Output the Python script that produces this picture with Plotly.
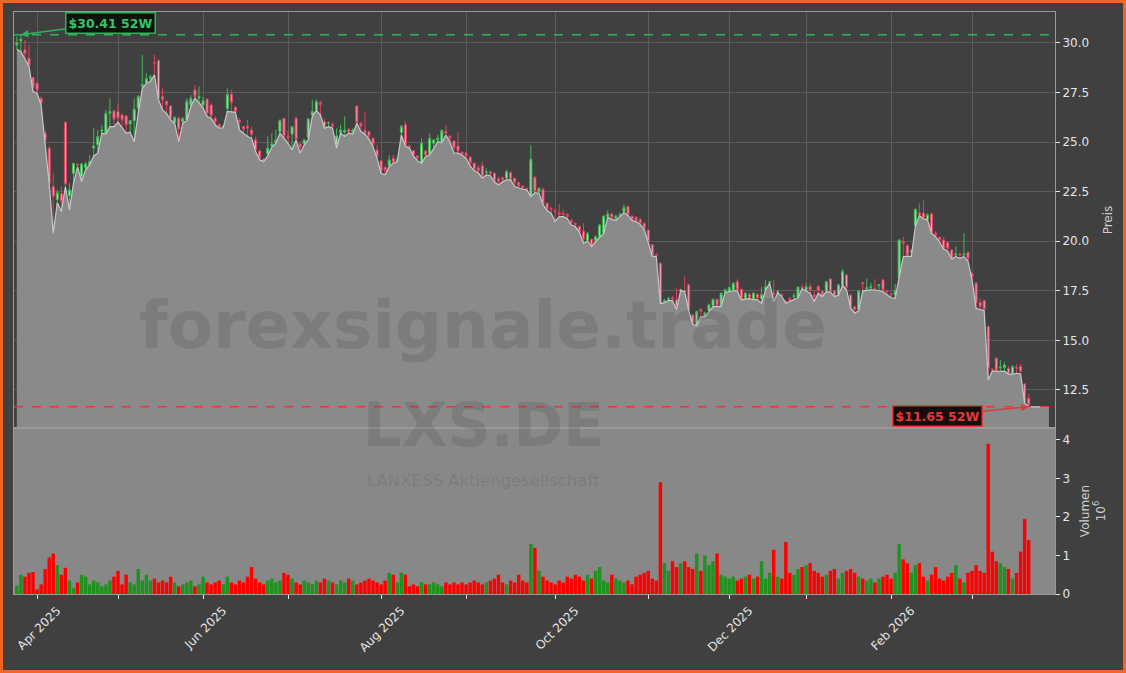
import pandas as pd
import plotly.graph_objects as go
from plotly.subplots import make_subplots

# ---------------- data ----------------
holidays = ["2025-04-18", "2025-04-21", "2025-05-01", "2025-12-24",
            "2025-12-25", "2025-12-26", "2025-12-31", "2026-01-01"]
dates = [d for d in pd.bdate_range("2025-03-25", "2026-03-20")
         if d.strftime("%Y-%m-%d") not in holidays]

open_ = [
 29.90,30.10,29.65,29.23,28.25,27.97,27.21,25.45,24.69,22.76,
 22.10,22.40,26.00,22.30,23.43,23.88,23.26,23.70,23.85,24.70,
 24.86,25.55,25.45,26.45,26.57,26.54,26.37,26.32,25.91,26.08,
 26.71,27.80,28.00,28.20,29.00,29.11,27.29,27.04,26.82,26.00,
 26.20,26.03,26.12,26.87,27.63,27.20,26.87,27.16,26.87,26.20,
 25.90,25.78,26.69,27.41,26.76,26.10,25.78,25.80,25.60,25.11,
 24.55,24.15,24.40,24.80,25.00,25.53,26.20,25.30,25.40,26.20,
 24.90,24.91,25.24,26.37,26.62,27.00,26.03,25.95,25.90,24.86,
 25.50,25.50,25.65,25.50,26.82,25.95,25.60,25.53,25.19,24.60,
 24.06,23.73,23.80,24.18,24.05,25.48,25.87,24.80,24.57,24.30,
 23.93,24.55,24.40,24.94,25.10,25.02,25.55,25.30,25.05,24.80,
 24.50,24.45,24.25,23.93,23.70,23.80,23.45,23.51,23.43,23.15,
 23.20,23.18,23.46,23.18,22.95,22.79,22.67,22.28,23.22,22.50,
 22.62,21.91,21.65,21.55,21.45,21.40,21.35,21.05,20.90,20.74,
 20.50,20.03,20.10,20.03,20.23,20.40,21.24,21.37,21.14,21.30,
 21.50,21.75,21.27,21.21,21.10,20.90,20.57,19.83,19.32,18.89,
 16.95,17.05,17.15,17.05,17.50,17.50,17.80,16.28,15.78,16.57,
 16.20,16.50,16.74,17.07,16.74,17.43,17.46,17.54,17.96,17.58,
 17.12,17.33,17.09,17.33,17.10,17.55,17.92,17.40,17.42,17.30,
 16.95,17.10,17.20,17.17,17.68,17.51,17.71,17.30,17.71,17.46,
 17.51,18.10,17.49,17.29,17.80,18.30,17.29,16.70,16.55,17.91,
 17.60,17.65,17.62,17.75,18.05,17.50,17.35,17.30,18.13,20.00,
 19.78,19.45,20.79,21.45,21.41,21.11,21.38,20.40,20.20,20.06,
 19.93,19.56,19.30,19.35,19.30,19.43,18.38,17.88,16.90,17.01,
 15.69,13.55,14.10,13.60,13.64,13.59,13.34,13.65,13.68,12.80,
 12.08]

high = [
 30.32,30.41,30.15,29.90,28.30,28.00,27.30,25.60,24.80,23.43,
 22.60,22.76,26.05,22.92,23.95,23.95,23.95,24.00,24.35,25.70,
 25.61,25.87,26.62,27.21,26.62,26.96,26.45,26.37,26.10,27.21,
 27.38,29.40,28.47,28.40,29.40,29.15,27.71,27.10,26.85,26.30,
 26.29,26.25,27.21,27.38,27.88,27.80,27.29,27.21,26.96,26.29,
 25.92,25.85,27.71,27.63,26.80,26.20,25.80,26.12,25.78,25.28,
 24.61,24.18,25.28,25.45,25.61,26.15,26.20,25.61,25.80,26.29,
 24.95,25.15,26.20,27.13,27.16,27.08,26.20,26.03,26.00,25.70,
 25.87,26.29,25.70,25.70,26.82,26.03,26.55,25.55,25.25,24.86,
 24.10,23.80,24.35,24.35,24.30,25.87,26.03,24.86,24.60,24.35,
 25.19,24.60,25.44,25.15,25.36,25.65,25.87,25.35,25.11,25.50,
 24.52,24.52,24.27,23.97,23.85,24.02,23.68,23.55,23.48,23.26,
 23.26,23.60,23.51,23.20,23.00,22.82,22.72,24.86,23.30,22.72,
 22.70,21.95,21.75,21.66,21.88,21.58,21.41,21.15,20.95,20.80,
 20.91,20.45,20.15,20.30,20.85,21.30,21.55,21.45,21.32,21.45,
 21.85,21.80,21.30,21.25,21.15,20.95,20.60,19.85,19.40,18.95,
 17.10,17.20,17.24,17.63,17.60,18.22,17.85,16.30,16.50,16.60,
 16.45,16.85,17.10,17.10,17.40,17.60,17.70,17.95,18.08,17.62,
 17.42,17.40,17.42,17.38,17.71,18.05,18.00,18.05,17.55,17.40,
 17.05,17.21,17.38,17.72,17.85,17.90,17.85,17.54,17.80,17.50,
 18.00,18.15,17.55,17.85,18.60,18.35,17.35,16.75,17.55,17.95,
 18.13,17.90,18.08,17.85,18.10,17.55,17.40,17.85,20.10,20.23,
 19.85,19.60,21.65,21.91,22.05,21.40,21.45,20.50,20.25,20.20,
 19.95,19.60,19.73,19.45,20.40,19.50,18.45,17.95,17.12,17.05,
 15.75,13.59,14.15,14.01,13.90,13.70,13.75,13.80,13.80,12.85,
 12.30]

low = [
 29.68,29.56,29.20,28.81,27.55,27.46,26.87,25.02,22.90,20.41,
 21.95,21.50,22.76,21.58,22.92,23.75,23.01,23.60,23.85,24.30,
 24.44,25.45,25.40,25.78,25.78,26.00,25.70,25.45,25.50,25.02,
 26.45,27.70,27.97,28.05,28.39,27.15,26.62,26.45,26.12,25.95,
 25.02,25.95,26.08,26.79,27.21,27.00,26.71,26.29,26.20,25.87,
 25.70,25.72,26.55,26.54,26.50,25.61,25.45,25.28,25.19,24.52,
 24.10,24.02,24.30,24.75,24.94,25.45,25.20,24.94,24.61,25.10,
 24.44,24.85,25.11,26.30,26.60,26.37,25.70,25.78,25.70,24.69,
 25.45,25.28,25.45,25.40,25.95,25.53,25.40,25.15,24.77,24.18,
 23.43,23.35,23.76,23.93,24.02,25.36,24.80,24.69,24.30,24.05,
 23.93,24.27,24.35,24.70,25.02,24.97,25.36,25.02,24.44,24.44,
 24.35,24.18,23.80,23.55,23.45,23.18,23.34,23.30,23.00,22.84,
 23.00,23.09,23.09,22.76,22.67,22.62,22.59,22.25,22.45,22.42,
 21.85,21.55,21.41,21.00,21.24,21.24,21.15,20.82,20.74,20.45,
 19.90,20.00,19.73,19.98,20.20,20.38,21.20,21.10,21.05,21.24,
 21.45,21.30,21.04,20.99,20.85,20.60,19.95,19.25,19.22,16.85,
 16.90,17.00,17.01,16.55,17.50,17.46,16.50,15.80,15.75,16.20,
 16.18,16.45,16.70,16.70,16.70,17.40,17.44,17.50,17.50,17.04,
 17.08,17.10,17.05,17.04,16.87,17.54,17.88,16.96,17.40,17.21,
 16.87,16.96,17.04,17.15,17.60,17.50,17.38,16.96,17.38,17.21,
 17.46,17.44,17.21,17.27,17.78,17.54,16.65,16.37,16.50,17.50,
 17.54,17.55,17.54,17.50,17.46,17.30,17.15,17.12,18.10,19.22,
 19.25,19.22,20.74,21.30,21.12,21.08,20.38,20.23,19.95,19.60,
 19.50,19.10,19.22,19.14,19.22,19.00,18.05,16.62,16.55,16.50,
 13.00,13.45,13.45,13.43,13.45,13.30,13.30,13.34,13.30,11.83,
 11.65]

close = [
 30.00,30.20,29.45,28.86,27.75,27.60,26.96,25.11,22.92,22.25,
 22.45,22.00,22.89,22.59,23.93,23.85,23.90,23.90,24.02,24.80,
 25.28,25.61,26.45,26.54,26.15,26.20,26.12,25.87,26.08,26.66,
 27.29,27.90,28.20,28.30,28.98,27.21,27.13,26.87,26.20,26.25,
 25.66,26.20,27.04,27.21,27.29,27.30,27.09,26.45,26.32,26.00,
 25.75,25.80,27.41,26.99,26.55,26.00,25.65,25.70,25.40,24.61,
 24.20,24.05,24.70,24.90,25.10,26.08,25.28,25.20,25.78,25.14,
 24.74,25.11,26.17,26.54,27.04,26.90,25.75,25.98,25.80,25.31,
 25.61,25.60,25.50,25.60,25.98,25.80,25.45,25.28,24.86,24.27,
 23.51,23.57,24.10,23.97,24.15,25.78,24.86,24.75,24.35,24.20,
 24.94,24.35,25.19,25.11,25.20,25.58,25.45,25.19,24.70,24.55,
 24.40,24.30,23.95,23.60,23.55,23.26,23.50,23.40,23.05,23.00,
 23.09,23.51,23.13,22.95,22.79,22.67,22.65,24.13,22.50,22.67,
 21.88,21.61,21.60,21.50,21.35,21.35,21.25,20.95,20.85,20.48,
 20.10,20.40,19.76,20.23,20.82,21.27,21.37,21.19,21.27,21.35,
 21.70,21.33,21.07,21.04,20.90,20.65,19.98,19.30,19.28,16.87,
 17.00,17.10,17.10,16.70,17.55,17.48,16.55,15.86,16.45,16.45,
 16.40,16.79,17.07,16.74,17.38,17.54,17.66,17.88,17.54,17.07,
 17.38,17.12,17.38,17.12,17.30,17.70,17.95,17.30,17.45,17.25,
 16.90,17.00,17.25,17.68,17.63,17.71,17.51,17.20,17.51,17.29,
 17.96,17.46,17.24,17.80,18.47,17.68,16.70,16.55,17.49,17.85,
 17.65,17.70,17.60,17.80,17.54,17.45,17.30,17.50,20.06,19.90,
 19.31,19.53,21.61,21.33,21.16,21.33,20.40,20.30,20.06,19.64,
 19.64,19.14,19.35,19.30,19.35,19.12,18.20,16.87,16.70,16.55,
 13.59,13.52,13.51,13.65,13.76,13.31,13.68,13.60,13.43,11.86,
 11.74]

volume_m = [
 0.22,0.50,0.45,0.55,0.57,0.12,0.25,0.65,0.95,1.05,
 0.75,0.50,0.68,0.35,0.15,0.30,0.50,0.45,0.25,0.35,
 0.30,0.20,0.25,0.35,0.45,0.60,0.25,0.50,0.30,0.25,
 0.65,0.35,0.50,0.35,0.40,0.30,0.35,0.30,0.45,0.30,
 0.20,0.25,0.30,0.35,0.20,0.25,0.45,0.30,0.25,0.30,
 0.35,0.25,0.45,0.30,0.25,0.35,0.30,0.45,0.70,0.40,
 0.30,0.25,0.35,0.40,0.30,0.35,0.55,0.50,0.40,0.30,
 0.25,0.35,0.30,0.25,0.35,0.30,0.40,0.35,0.30,0.25,
 0.35,0.30,0.40,0.35,0.25,0.30,0.35,0.40,0.35,0.30,
 0.25,0.35,0.55,0.50,0.30,0.55,0.50,0.20,0.25,0.20,
 0.30,0.25,0.25,0.30,0.25,0.20,0.30,0.25,0.30,0.25,
 0.30,0.25,0.30,0.35,0.30,0.25,0.30,0.35,0.40,0.50,
 0.30,0.25,0.35,0.30,0.50,0.35,0.30,1.30,1.20,0.60,
 0.45,0.35,0.30,0.25,0.35,0.30,0.45,0.40,0.50,0.45,
 0.35,0.50,0.40,0.60,0.70,0.35,0.30,0.50,0.40,0.35,
 0.30,0.35,0.25,0.45,0.50,0.55,0.60,0.40,0.35,2.90,
 0.80,0.60,0.85,0.70,0.80,0.85,0.70,0.65,1.05,0.60,
 1.00,0.75,0.85,1.05,0.50,0.45,0.40,0.45,0.35,0.40,
 0.45,0.50,0.40,0.45,0.85,0.40,0.55,1.15,0.45,0.40,
 1.35,0.55,0.50,0.65,0.70,0.75,0.80,0.60,0.55,0.45,
 0.50,0.60,0.65,0.40,0.55,0.60,0.65,0.55,0.45,0.40,
 0.35,0.40,0.30,0.40,0.45,0.50,0.40,0.55,1.30,0.90,
 0.80,0.55,0.75,0.80,0.45,0.35,0.50,0.70,0.40,0.35,
 0.45,0.55,0.75,0.40,0.30,0.55,0.60,0.75,0.60,0.55,
 3.90,1.10,0.85,0.80,0.70,0.65,0.40,0.55,1.10,1.95,
 1.40]

high_52w = 30.41
low_52w = 11.65
ticker = "LXS.DE"
company = "LANXESS Aktiengesellschaft"
watermark = "forexsignale.trade"

# ---------------- derived ----------------
idx = list(range(len(dates)))
month_idx, month_lab_idx, month_lab_txt, month_minor_idx = [], [], [], []
prev = None
for i, d in enumerate(dates):
    key = (d.year, d.month)
    if key != prev:
        if prev is not None:
            month_idx.append(i)
            if d.month % 2 == 0:
                month_lab_idx.append(i)
                month_lab_txt.append(d.strftime("%b %Y"))
            else:
                month_minor_idx.append(i)
        prev = key
hi_i = high.index(max(high))
lo_i = low.index(min(low))
vol_colors = ["#1f921f" if c >= o else "#ff0000" for o, c in zip(open_, close)]

# ---------------- figure ----------------
W, H = 1126, 673
L, R, T, B = 14, 71, 12, 79
pw, ph = W - L - R, H - T - B
def px_x(p):
    return (p - L) / pw
def px_y(p):
    return (H - B - p) / ph

vol_frac = 166 / ph
fig = make_subplots(rows=2, cols=1, shared_xaxes=True, vertical_spacing=0,
                    row_heights=[1 - vol_frac, vol_frac])

FONT = "DejaVu Sans"
TXT = "#e6e6e6"
xr = [-0.7, 256.5]
pad_end = 5  # area fill continues flat a few slots past the last bar

fig.add_trace(go.Scatter(x=idx + [idx[-1] + pad_end], y=low + [low[-1]], mode="lines",
                         fill="tozeroy", fillcolor="#8a8a8a",
                         line=dict(color="#c8c8c8", width=1.2),
                         hoverinfo="skip", showlegend=False), row=1, col=1)
fig.add_trace(go.Candlestick(x=idx, open=open_, high=high, low=low, close=close,
                             increasing=dict(line=dict(color="#3dbb55", width=1), fillcolor="#b4dcbb"),
                             decreasing=dict(line=dict(color="#e0405f", width=1), fillcolor="#f0abbb"),
                             whiskerwidth=0, showlegend=False), row=1, col=1)
fig.add_trace(go.Bar(x=idx, y=volume_m, marker=dict(color=vol_colors, line=dict(width=0)),
                     width=0.85, showlegend=False), row=2, col=1)

fig.update_xaxes(range=xr, showline=True, mirror=True, linecolor="#9a9a9a", linewidth=1,
                 zeroline=False, rangeslider_visible=False)
fig.update_xaxes(row=1, col=1, tickmode="array", tickvals=month_idx,
                 showticklabels=False, ticks="", showgrid=True,
                 gridcolor="#5c5c5c", gridwidth=1)
fig.update_xaxes(row=2, col=1, tickmode="array", tickvals=month_lab_idx, ticktext=month_lab_txt,
                 showgrid=False, ticks="outside", ticklen=4,
                 tickcolor=TXT, tickangle=-45, ticklabelshift=20,
                 tickfont=dict(family=FONT, size=12, color=TXT),
                 minor=dict(tickmode="array", tickvals=month_minor_idx, ticks="outside",
                            ticklen=4, tickcolor=TXT, showgrid=False))

fig.update_yaxes(row=1, col=1, side="right", range=[10.58, 31.56], tick0=0, dtick=2.5,
                 tickformat=".1f", ticks="outside", ticklen=4, tickcolor=TXT,
                 tickfont=dict(family=FONT, size=12, color=TXT),
                 showgrid=True, gridcolor="#5c5c5c", gridwidth=1, zeroline=False,
                 showline=True, mirror=True, linecolor="#9a9a9a",
                 title=dict(text="Preis", font=dict(family=FONT, size=12, color="#cfcfcf"), standoff=15))
fig.update_yaxes(row=2, col=1, side="right", range=[0, 4.31], tickvals=[0, 1, 2, 3, 4],
                 ticks="outside", ticklen=4, tickcolor=TXT,
                 tickfont=dict(family=FONT, size=12, color=TXT),
                 showgrid=False, zeroline=False, showline=True, mirror=True, linecolor="#9a9a9a",
                 title=dict(text="Volumen<br>10<sup>6</sup>", font=dict(family=FONT, size=12, color="#cfcfcf"), standoff=11))

shapes = [
    dict(type="rect", xref="x2 domain", yref="y2 domain", x0=0, x1=1, y0=0, y1=1,
         fillcolor="#888888", line=dict(width=0), layer="below"),
    dict(type="line", xref="x domain", yref="y", x0=0, x1=1, y0=high_52w, y1=high_52w,
         line=dict(color="#2fb35a", width=1.5, dash="dash")),
    dict(type="line", xref="x domain", yref="y", x0=0, x1=1, y0=low_52w, y1=low_52w,
         line=dict(color="#e03b3b", width=1.5, dash="dash")),
    dict(type="rect", xref="paper", yref="paper", x0=px_x(1.5), x1=px_x(W - 1.5),
         y0=px_y(H - 1.5), y1=px_y(1.5), line=dict(color="#f26522", width=3)),
]

WM = "rgba(60,60,60,0.17)"
annotations = [
    dict(x=hi_i, y=high_52w, xref="x", yref="y", text=f"<b>${high_52w:.2f} 52W</b>",
         font=dict(family=FONT, size=12.5, color="#35c46a"), bgcolor="#0c140e",
         bordercolor="#2fb35a", borderwidth=1.5, borderpad=2,
         showarrow=True, ax=90, ay=-12, arrowcolor="#2fb35a", arrowwidth=1.5, arrowhead=2),
    dict(x=lo_i, y=low_52w, xref="x", yref="y", text=f"<b>${low_52w:.2f} 52W</b>",
         font=dict(family=FONT, size=12.5, color="#e23a3a"), bgcolor="#160c0c",
         bordercolor="#e03b3b", borderwidth=1.5, borderpad=2,
         showarrow=True, ax=-91, ay=9, arrowcolor="#e03b3b", arrowwidth=1.5, arrowhead=2),
    dict(x=px_x(483), y=px_y(325), xref="paper", yref="paper", text=f"<b>{watermark}</b>",
         showarrow=False, font=dict(family=FONT, size=66, color=WM)),
    dict(x=px_x(483), y=px_y(462), xref="paper", yref="paper", text=f"<b>{ticker}</b>",
         showarrow=False, font=dict(family=FONT, size=60, color=WM)),
    dict(x=px_x(483), y=px_y(492), xref="paper", yref="paper", text=company,
         showarrow=False, font=dict(family=FONT, size=16.5, color=WM)),
]

fig.update_layout(width=W, height=H, margin=dict(l=L, r=R, t=T, b=B),
                  paper_bgcolor="#404040", plot_bgcolor="#404040",
                  font=dict(family=FONT, color=TXT), showlegend=False,
                  bargap=0.1, shapes=shapes, annotations=annotations,
                  hovermode=False)

fig.write_html("out.html", config={"displayModeBar": False},
               post_script="document.body.style.margin='0';document.body.style.overflow='hidden';")
